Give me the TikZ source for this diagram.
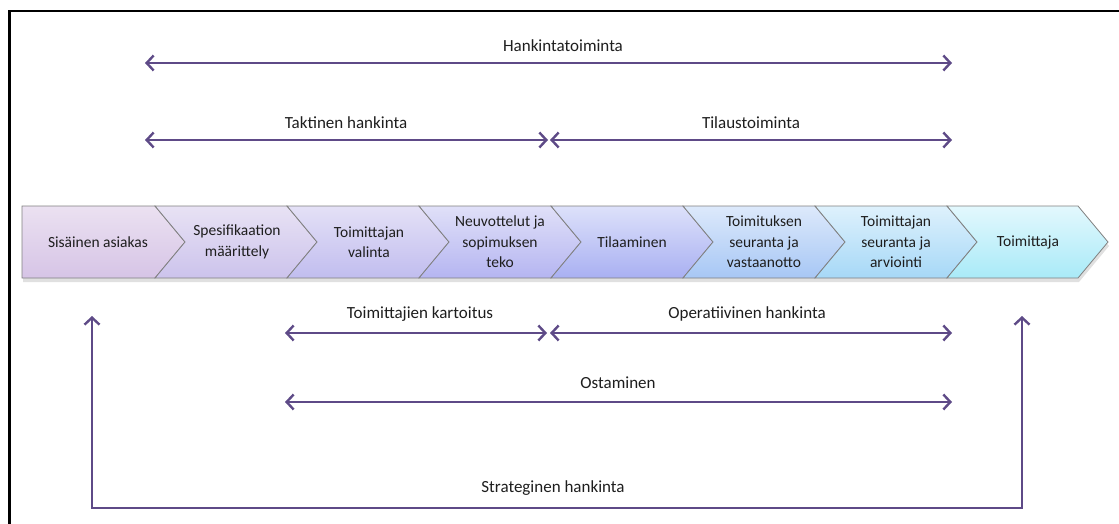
\documentclass[tikz,border=0pt]{standalone}
\usepackage{fontspec}
\setmainfont{Carlito}
\usetikzlibrary{arrows.meta}
% arrow colour and chevron shading colours (top / bottom of each step)
\definecolor{spancol}{HTML}{5E4A87}
\definecolor{txtcol}{HTML}{1E1E1E}
\definecolor{edgecol}{HTML}{808080}
\definecolor{ca1}{HTML}{EBE1F1}\definecolor{cb1}{HTML}{D6C4E6}
\definecolor{ca2}{HTML}{E8E2F4}\definecolor{cb2}{HTML}{CCC3EC}
\definecolor{ca3}{HTML}{E4E1F6}\definecolor{cb3}{HTML}{C1BDEF}
\definecolor{ca4}{HTML}{E0E0F8}\definecolor{cb4}{HTML}{B5B5F1}
\definecolor{ca5}{HTML}{DDE1FA}\definecolor{cb5}{HTML}{A9B0F2}
\definecolor{ca6}{HTML}{DDE9FB}\definecolor{cb6}{HTML}{A7C7F5}
\definecolor{ca7}{HTML}{DEF1FC}\definecolor{cb7}{HTML}{A6D8F7}
\definecolor{ca8}{HTML}{E3F8FD}\definecolor{cb8}{HTML}{A9EAF8}
\tikzset{
  stepbox/.style={draw=edgecol, line width=0.8pt, line join=miter},
  steptext/.style={text=txtcol, align=center, inner sep=0pt,
    font=\fontsize{15.5}{20.5}\selectfont},
  spantext/.style={text=txtcol, inner sep=0pt, font=\fontsize{17}{20}\selectfont},
  span/.style={draw=spancol, line width=2.4pt,
    {Straight Barb[length=7pt,width=15pt,line width=2.4pt]}-{Straight Barb[length=7pt,width=15pt,line width=2.4pt]}}
}
\begin{document}
\begin{tikzpicture}[x=1pt,y=-1pt]
\useasboundingbox (0,0) rectangle (1119,524);
\fill[white] (0,0) rectangle (1119,524);
% outer frame
\draw[line width=2.2pt] (9.5,530) -- (9.5,11) -- (1130,11);

% soft shadow under the process strip
\fill[black, opacity=0.12] (23,210) -- (1079,210) -- (1109,246) -- (1079,282) -- (23,282) -- cycle;

% process steps
\path[stepbox, top color=ca1, bottom color=cb1]
  (22,206) -- (155,206) -- (185,242) -- (155,278) -- (22,278) -- cycle;
\foreach \i/\a/\b in {2/155/287, 3/287/419, 4/419/551, 5/551/683, 6/683/815, 7/815/947, 8/947/1078}{
  \path[stepbox, top color=ca\i, bottom color=cb\i]
    (\a,206) -- (\b,206) -- (\b+30,242) -- (\b,278) -- (\a,278) -- (\a+30,242) -- cycle;
}
\node[steptext] (s1) at (98,242) {Sisäinen asiakas};
\node[steptext] (s2) at (237,242) {Spesifikaation\\määrittely};
\node[steptext] (s3) at (369,242) {Toimittajan\\valinta};
\node[steptext] (s4) at (500,242) {Neuvottelut ja\\sopimuksen\\teko};
\node[steptext] (s5) at (632,242) {Tilaaminen};
\node[steptext] (s6) at (764,242) {Toimituksen\\seuranta ja\\vastaanotto};
\node[steptext] (s7) at (896,242) {Toimittajan\\seuranta ja\\arviointi};
\node[steptext] (s8) at (1028,242) {Toimittaja};

% span labels
\node[spantext] (lHank) at (563,46) {Hankintatoiminta};
\node[spantext] (lTakt) at (346,123) {Taktinen hankinta};
\node[spantext] (lTila) at (751,123) {Tilaustoiminta};
\node[spantext] (lKart) at (420,314) {Toimittajien kartoitus};
\node[spantext] (lOper) at (747,314) {Operatiivinen hankinta};
\node[spantext] (lOsta) at (618,383) {Ostaminen};
\node[spantext] (lStra) at (553,488) {Strateginen hankinta};

% span end points
\coordinate (hA) at (145,63);   \coordinate (hB) at (952,63);
\coordinate (tA) at (145,140);  \coordinate (tB) at (548,140);
\coordinate (oA) at (550,140);  \coordinate (oB) at (952,140);
\coordinate (kA) at (285,333);  \coordinate (kB) at (547,333);
\coordinate (pA) at (550,333);  \coordinate (pB) at (952,333);
\coordinate (mA) at (285,402);  \coordinate (mB) at (952,402);
\coordinate (sA) at (92,316);   \coordinate (sB) at (92,508);
\coordinate (sC) at (1022,508); \coordinate (sD) at (1022,316);

% spans
\draw[span] (hA) -- (hB);
\draw[span] (tA) -- (tB);
\draw[span] (oA) -- (oB);
\draw[span] (kA) -- (kB);
\draw[span] (pA) -- (pB);
\draw[span] (mA) -- (mB);
\draw[span] (sA) -- (sB) -- (sC) -- (sD);
\end{tikzpicture}
\end{document}
